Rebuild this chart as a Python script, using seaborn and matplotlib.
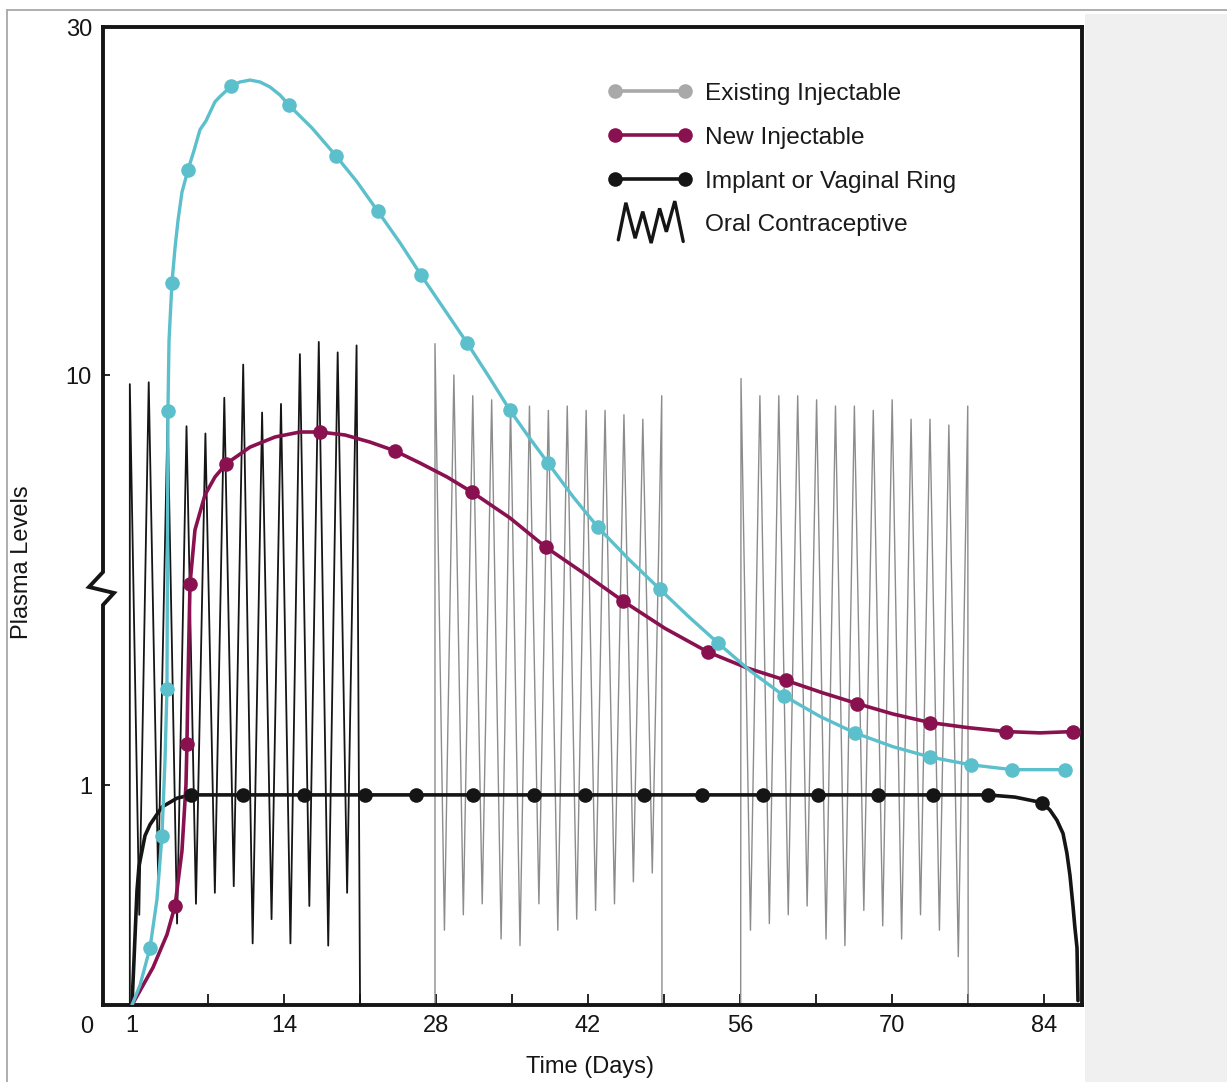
import numpy as np
import matplotlib
matplotlib.use("Agg")
import matplotlib.pyplot as plt
from matplotlib.lines import Line2D
from matplotlib.patches import Rectangle
from matplotlib.legend_handler import HandlerBase
import seaborn as sns

# ---------------------------------------------------------------- data ----
# Existing injectable (smooth curve knots and marker points)
existing_days = [0, 0.74, 1.66, 2.30, 2.76, 3.04, 3.22, 3.27, 3.31, 3.41, 3.68, 3.96,
                 4.24, 4.60, 5.16, 5.71, 6.26, 6.81, 7.64, 8.10, 9.12, 9.94, 10.87,
                 11.79, 12.71, 13.63, 14.46, 16.57, 18.78, 20.72,
                 22.65, 24.68, 26.61, 28.73, 30.85, 32.87, 34.81, 36.56, 38.31, 40.61,
                 42.91, 45.76, 48.62, 51.29, 53.96, 56.91, 60.04, 63.35, 66.57, 70.07,
                 73.48, 77.26, 81.03, 85.91]
existing_levels = [0, 0.09, 0.26, 0.48, 0.77, 1.15, 1.71, 3.74, 8.19, 12.0, 15.3, 17.3,
                   18.9, 20.5, 21.8, 22.9, 24.1, 24.6, 25.7, 26.0, 26.6, 26.84, 26.95,
                   26.84, 26.55, 26.09, 25.5, 24.2, 22.6, 21.1,
                   19.4, 17.6, 15.75, 13.8, 11.85, 9.9, 8.2, 7.05, 6.1, 5.05,
                   4.25, 3.55, 3.0, 2.57, 2.22, 1.90, 1.65, 1.47, 1.34, 1.24,
                   1.17, 1.12, 1.09, 1.09]
existing_marker_days = [1.66, 2.76, 3.22, 3.31, 3.68, 5.16, 9.12, 14.46, 18.78, 22.65,
                        26.61, 30.85, 34.81, 38.31, 42.91, 48.62, 53.96, 60.04, 66.57,
                        73.48, 77.26, 81.03, 85.91]
existing_marker_levels = [0.26, 0.77, 1.71, 8.19, 15.3, 21.8, 26.6, 25.5, 22.6, 19.4,
                          15.75, 11.85, 8.2, 6.1, 4.25, 3.0, 2.22, 1.65, 1.34,
                          1.17, 1.12, 1.09, 1.09]

# New injectable
new_days = [0, 1.93, 3.22, 3.96, 4.60, 4.97, 5.06, 5.16, 5.34, 5.80, 6.72, 7.64, 8.66,
            10.87, 13.17, 15.47, 17.31, 19.61, 21.92, 24.22, 26.52, 29.01, 31.31,
            34.81, 38.12, 41.71, 45.21, 49.08, 53.04, 56.63, 60.22, 63.54, 66.76,
            70.07, 73.48, 76.98, 80.48, 83.61, 86.65]
new_levels = [0, 0.17, 0.32, 0.45, 0.70, 1.0, 1.26, 1.80, 3.09, 4.19, 5.10, 5.64, 6.07,
              6.67, 7.06, 7.26, 7.26, 7.14, 6.86, 6.53, 6.10, 5.64, 5.18,
              4.48, 3.80, 3.27, 2.81, 2.41, 2.11, 1.93, 1.80, 1.68, 1.58,
              1.49, 1.42, 1.38, 1.35, 1.34, 1.35]
new_marker_days = [3.96, 5.06, 5.34, 8.66, 17.31, 24.22, 31.31, 38.12, 45.21, 53.04,
                   60.22, 66.76, 73.48, 80.48, 86.65]
new_marker_levels = [0.45, 1.26, 3.09, 6.07, 7.26, 6.53, 5.18, 3.80, 2.81, 2.11,
                     1.80, 1.58, 1.42, 1.35, 1.35]

# Implant or vaginal ring
implant_days = [0, 0.18, 0.46, 0.64, 0.92, 1.20, 1.66, 2.76, 4.14, 5.43, 10.22, 15.84,
                21.45, 26.15, 31.40, 37.02, 41.71, 47.15, 52.49, 58.10, 63.17, 68.69,
                73.76, 78.82, 81.3, 83.79, 84.53, 85.17, 85.73, 86.09, 86.37, 86.65,
                86.83, 87.02, 87.11]
implant_levels = [0, 0.20, 0.52, 0.63, 0.70, 0.77, 0.82, 0.90, 0.94, 0.955, 0.955, 0.955,
                  0.955, 0.955, 0.955, 0.955, 0.955, 0.955, 0.955, 0.955, 0.955, 0.955,
                  0.955, 0.955, 0.945, 0.92, 0.886, 0.84, 0.78, 0.69, 0.59, 0.45,
                  0.35, 0.26, 0.02]
implant_marker_days = [5.43, 10.22, 15.84, 21.45, 26.15, 31.40, 37.02, 41.71, 47.15,
                       52.49, 58.10, 63.17, 68.69, 73.76, 78.82, 83.79]
implant_marker_levels = [0.955, 0.955, 0.955, 0.955, 0.955, 0.955, 0.955, 0.955, 0.955,
                         0.955, 0.955, 0.955, 0.955, 0.955, 0.955, 0.92]

# Oral contraceptive, three 21-day pill cycles (daily peaks and troughs)
oral1_days = [-0.2, -0.2, 0.67, 1.54, 2.41, 3.28, 4.15, 5.02, 5.89, 6.76, 7.63, 8.50, 9.37,
              10.24, 11.11, 11.98, 12.85, 13.72, 14.59, 15.46, 16.33, 17.20, 18.07,
              18.94, 19.81, 20.68, 21.0]
oral1_levels = [0, 9.5, 0.41, 9.6, 0.57, 8.0, 0.37, 7.5, 0.46, 7.2, 0.51, 8.8, 0.54,
                10.6, 0.28, 8.1, 0.39, 8.5, 0.28, 11.2, 0.45, 11.9, 0.27,
                11.3, 0.51, 11.7, 0]
oral2_days = [27.9, 27.9, 28.77, 29.64, 30.51, 31.38, 32.25, 33.12, 33.99, 34.86, 35.73,
              36.6, 37.47, 38.34, 39.21, 40.08, 40.95, 41.82, 42.69, 43.56, 44.43, 45.3,
              46.17, 47.04, 47.91, 48.78, 48.8]
oral2_levels = [0, 11.8, 0.34, 10.0, 0.41, 8.9, 0.46, 8.7, 0.30, 8.4, 0.27,
                8.4, 0.46, 8.2, 0.34, 8.4, 0.39, 8.2, 0.43, 8.2, 0.46, 8.0,
                0.56, 7.8, 0.60, 8.9, 0]
oral3_days = [56.05, 56.08, 56.95, 57.82, 58.69, 59.56, 60.43, 61.3, 62.17, 63.04, 63.91,
              64.78, 65.65, 66.52, 67.39, 68.26, 69.13, 70.0, 70.87, 71.74, 72.61,
              73.48, 74.35, 75.22, 76.09, 76.96, 77.0]
oral3_levels = [0, 9.8, 0.34, 8.9, 0.37, 8.9, 0.41, 8.9, 0.45, 8.7, 0.30,
                8.4, 0.27, 8.4, 0.43, 8.2, 0.36, 8.7, 0.30, 7.8, 0.41,
                7.8, 0.34, 7.55, 0.22, 8.4, 0]

x_tick_days = [0, 7, 14, 21, 28, 35, 42, 49, 56, 63, 70, 77, 84]
x_tick_labels = ["1", "", "14", "", "28", "", "42", "", "56", "", "70", "", "84"]
y_tick_values = [1, 10, 30]
y_tick_labels = ["1", "10", "30"]

legend_labels = ["Existing Injectable", "New Injectable",
                 "Implant or Vaginal Ring", "Oral Contraceptive"]

CYAN = "#5BBFCC"
MAGENTA = "#8A1150"
BLACK = "#151515"
LEGEND_GRAY = "#A9A9A9"
ORAL_GRAY = "#8C8C8C"


# ------------------------------------------------- broken level axis -----
def level_forward(v):
    v = np.asarray(v, dtype=float)
    low = 220.0 * v
    mid = 220.0 + 410.0 * np.log10(np.clip(v, 1.0, None))
    high = 630.0 + 17.4 * (v - 10.0)
    return np.where(v <= 1.0, low, np.where(v <= 10.0, mid, high))


def level_inverse(p):
    p = np.asarray(p, dtype=float)
    low = p / 220.0
    mid = 10.0 ** ((np.clip(p, 220.0, 630.0) - 220.0) / 410.0)
    high = 10.0 + (p - 630.0) / 17.4
    return np.where(p <= 220.0, low, np.where(p <= 630.0, mid, high))


class HandlerZigzag(HandlerBase):
    def create_artists(self, legend, orig_handle, xdescent, ydescent,
                       width, height, fontsize, trans):
        fx = np.array([0.12, 0.21, 0.32, 0.41, 0.51, 0.61, 0.69, 0.79, 0.89])
        fy = np.array([0.08, 1.0, 0.12, 0.78, 0.0, 0.86, 0.28, 1.04, 0.04])
        xs = -xdescent + fx * width
        ys = -ydescent + height / 2 + (fy - 0.5) * 1.65 * fontsize
        line = Line2D(xs, ys, color=BLACK, lw=2.4, solid_joinstyle="miter")
        line.set_transform(trans)
        return [line]


# ---------------------------------------------------------------- figure --
sns.set_theme(style="white")
plt.rcParams["font.family"] = ["Liberation Sans", "DejaVu Sans"]
plt.rcParams["text.color"] = "#1a1a1a"

W, H = 1227, 1082
fig = plt.figure(figsize=(W / 100, H / 100), dpi=100)
fig.patch.set_facecolor("white")

# page frame and side panel
fig.add_artist(Rectangle((1085 / W, 0), (W - 1085) / W, 1 - 14 / H,
                         transform=fig.transFigure, facecolor="#F0F0F0",
                         edgecolor="none", zorder=0))
fig.add_artist(Line2D([7 / W, 1], [1 - 10 / H, 1 - 10 / H], transform=fig.transFigure,
                      color="#A8A8A8", lw=1.3))
fig.add_artist(Line2D([7 / W, 7 / W], [0, 1 - 10 / H], transform=fig.transFigure,
                      color="#A8A8A8", lw=1.3))

ax = fig.add_axes([103 / W, 1 - 1005 / H, 979 / W, 978 / H])
ax.set_facecolor("white")
ax.set_yscale("function", functions=(level_forward, level_inverse))

# oral contraceptive zigzags
for days, levels, col, lw in [(oral1_days, oral1_levels, BLACK, 1.3),
                              (oral2_days, oral2_levels, ORAL_GRAY, 1.0),
                              (oral3_days, oral3_levels, ORAL_GRAY, 1.0)]:
    sns.lineplot(x=days, y=levels, sort=False, estimator=None, color=col,
                 lw=lw, ax=ax, zorder=1.5)

# continuous-release curves
for days, levels, col, lw, z in [(implant_days, implant_levels, BLACK, 2.6, 3.0),
                                 (new_days, new_levels, MAGENTA, 2.6, 3.2),
                                 (existing_days, existing_levels, CYAN, 2.4, 3.4)]:
    sns.lineplot(x=days, y=levels, sort=False, estimator=None, color=col,
                 lw=lw, ax=ax, zorder=z)

for days, levels, col, z in [(implant_marker_days, implant_marker_levels, BLACK, 4.0),
                             (new_marker_days, new_marker_levels, MAGENTA, 4.2),
                             (existing_marker_days, existing_marker_levels, CYAN, 4.4)]:
    sns.scatterplot(x=days, y=levels, color=col, s=110, linewidth=0, ax=ax, zorder=z)

ax.set_xlim(-2.67, 87.48)
ax.set_ylim(0, 30)

# ticks
ax.set_xticks(x_tick_days)
ax.set_xticklabels(x_tick_labels)
ax.tick_params(axis="x", direction="in", length=8, width=1.3, pad=7,
               labelsize=17, colors=BLACK, bottom=True)
ax.xaxis.get_major_ticks()[0].tick1line.set_visible(False)
ax.set_yticks(y_tick_values)
ax.set_yticklabels(y_tick_labels)
ax.tick_params(axis="y", direction="in", length=5, width=1.3, pad=8,
               labelsize=17, colors=BLACK, left=True)
ax.minorticks_off()

# frame: thick box with a break symbol on the level axis
for side in ["top", "right", "bottom"]:
    ax.spines[side].set_linewidth(2.8)
    ax.spines[side].set_color(BLACK)
ax.spines["left"].set_visible(False)
bx = [0, 0, -0.0143, 0.0112, 0, 0]
by = [1, 0.4427, 0.4274, 0.4213, 0.4090, 0]
ax.plot(bx, by, transform=ax.transAxes, clip_on=False, color=BLACK, lw=2.8,
        solid_joinstyle="miter", solid_capstyle="projecting", zorder=6)

ax.text(-0.0163, -0.0225, "0", transform=ax.transAxes, ha="center", va="center",
        fontsize=17, color=BLACK)

ax.set_xlabel("Time (Days)", fontsize=17, color=BLACK)
ax.xaxis.set_label_coords(0.497, -0.052)
ax.set_ylabel("Plasma Levels", fontsize=17, color=BLACK)
ax.yaxis.set_label_coords(-0.071, 0.453)

# legend
zig = Line2D([], [], color=BLACK)
handles = [Line2D([], [], color=LEGEND_GRAY, lw=2.6, marker="o", ms=10.5, mew=0),
           Line2D([], [], color=MAGENTA, lw=2.6, marker="o", ms=10.5, mew=0),
           Line2D([], [], color=BLACK, lw=2.6, marker="o", ms=10.5, mew=0),
           zig]
ax.legend(handles, legend_labels, loc="upper left", bbox_to_anchor=(0.516, 0.943),
          frameon=False, fontsize=17.6, handlelength=3.45, handletextpad=0.53,
          labelspacing=0.89, borderpad=0, borderaxespad=0, numpoints=2,
          handler_map={zig: HandlerZigzag()})

fig.savefig("out.png", dpi=100, facecolor="white")
